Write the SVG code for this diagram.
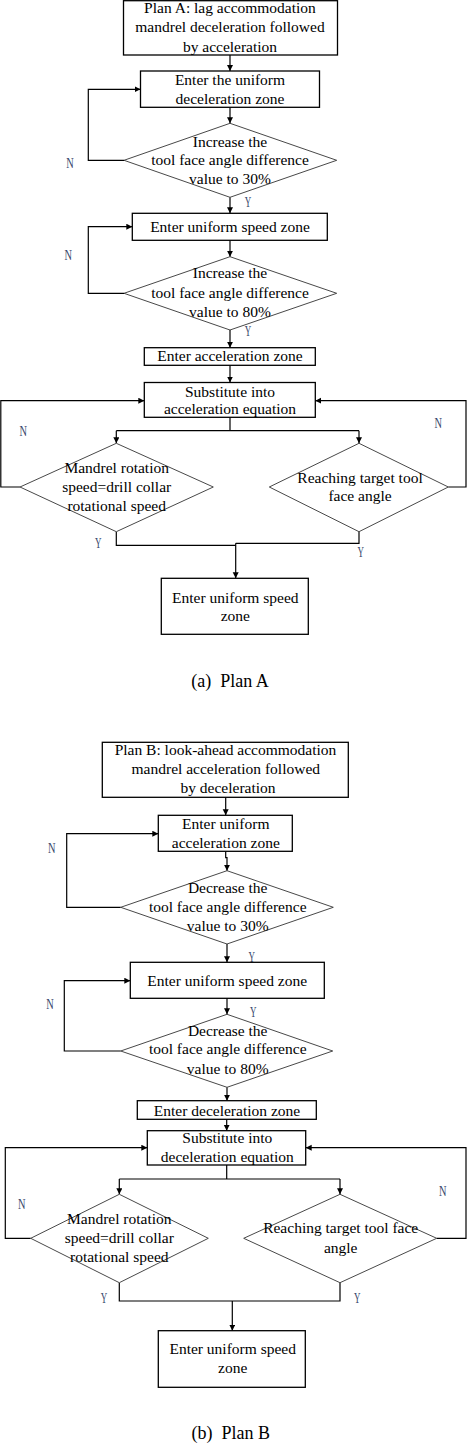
<svg xmlns="http://www.w3.org/2000/svg" width="467" height="1443" viewBox="0 0 467 1443">
<style>
.box{fill:#fff;stroke:#000;stroke-width:1.3}
.dia{fill:#fff;stroke:#333;stroke-width:0.9}
.t{font-family:"Liberation Serif","Times New Roman",serif;font-size:15.5px;fill:#000;text-anchor:middle}
.lbl{font-family:"Liberation Serif","Times New Roman",serif;font-size:14px;fill:#34446a;text-anchor:middle}
.cap{font-family:"Liberation Serif","Times New Roman",serif;font-size:18px;fill:#000;text-anchor:middle}
.c{fill:none;stroke:#000;stroke-width:1.2}
.ca{fill:none;stroke:#000;stroke-width:1.2;marker-end:url(#ah)}
</style>
<defs>
<marker id="ah" markerUnits="userSpaceOnUse" markerWidth="7" markerHeight="7" refX="6" refY="3" orient="auto">
<path d="M0,0 L6,3 L0,6 z" fill="#000"/>
</marker>
</defs>
<g id="connectors">
<line class="ca" x1="230" y1="55" x2="230" y2="71"/>
<line class="ca" x1="230" y1="107.3" x2="230" y2="123.3"/>
<line class="ca" x1="230" y1="197.3" x2="230" y2="213.3"/>
<polyline class="ca" points="124,160.3 88.3,160.3 88.3,89.3 140.5,89.3"/>
<line class="ca" x1="230" y1="240.3" x2="230" y2="256.7"/>
<polyline class="ca" points="124,293.3 88.3,293.3 88.3,226.7 132.3,226.7"/>
<line class="ca" x1="230" y1="330" x2="230" y2="347.7"/>
<line class="ca" x1="230" y1="365.3" x2="230" y2="382.5"/>
<path class="c" d="M230,417.3 V430.7 M116.3,430.7 H359"/>
<line class="ca" x1="116.3" y1="430.7" x2="116.3" y2="443.3"/>
<line class="ca" x1="359" y1="430.7" x2="359" y2="443.3"/>
<polyline class="ca" points="20,487 0.8,487 0.8,400.7 144.3,400.7"/>
<polyline class="ca" points="448.3,487 466,487 466,400.7 315.3,400.7"/>
<polyline class="c" points="116.3,531.7 116.3,545.3 235.7,545.3"/>
<polyline class="c" points="359,531.7 359,543.3 235.7,543.3"/>
<line class="ca" x1="235.7" y1="543.3" x2="235.7" y2="578.3"/>

<line class="ca" x1="225.7" y1="797.3" x2="225.7" y2="815.3"/>
<path class="ca" d="M225.7,851.3 V857.7 H227 V870.7"/>
<polyline class="ca" points="120.7,907.3 66.7,907.3 66.7,833.7 158.3,833.7"/>
<line class="ca" x1="227" y1="944" x2="227" y2="962.3"/>
<line class="ca" x1="227" y1="998.3" x2="227" y2="1014.3"/>
<polyline class="ca" points="120.7,1051 64.3,1051 64.3,980.7 130.3,980.7"/>
<line class="ca" x1="227" y1="1087.3" x2="227" y2="1100.7"/>
<line class="ca" x1="226.7" y1="1119.3" x2="226.7" y2="1130.7"/>
<path class="c" d="M226.7,1165 V1179 M119.3,1179 H340"/>
<line class="ca" x1="119.3" y1="1179" x2="119.3" y2="1194.3"/>
<line class="ca" x1="340" y1="1179" x2="340" y2="1194.3"/>
<polyline class="ca" points="30.7,1238.3 5.3,1238.3 5.3,1147.7 147.3,1147.7"/>
<polyline class="ca" points="436.7,1238.3 466,1238.3 466,1147.7 305.7,1147.7"/>
<polyline class="c" points="119.3,1282.7 119.3,1301 340,1301 340,1282.7"/>
<line class="ca" x1="232.3" y1="1301" x2="232.3" y2="1330.7"/>
</g>

<g id="labels">
<text class="lbl" x="70" y="168" textLength="7.5" lengthAdjust="spacingAndGlyphs">N</text>
<text class="lbl" x="248" y="207" textLength="6.5" lengthAdjust="spacingAndGlyphs">Y</text>
<text class="lbl" x="68.3" y="260" textLength="7.5" lengthAdjust="spacingAndGlyphs">N</text>
<text class="lbl" x="248" y="336" textLength="6.5" lengthAdjust="spacingAndGlyphs">Y</text>
<text class="lbl" x="23.3" y="436" textLength="7.5" lengthAdjust="spacingAndGlyphs">N</text>
<text class="lbl" x="438.3" y="428" textLength="7.5" lengthAdjust="spacingAndGlyphs">N</text>
<text class="lbl" x="98.3" y="548" textLength="6.5" lengthAdjust="spacingAndGlyphs">Y</text>
<text class="lbl" x="360.7" y="557" textLength="6.5" lengthAdjust="spacingAndGlyphs">Y</text>
<text class="lbl" x="51.7" y="853" textLength="7.5" lengthAdjust="spacingAndGlyphs">N</text>
<text class="lbl" x="251.7" y="962" textLength="6.5" lengthAdjust="spacingAndGlyphs">Y</text>
<text class="lbl" x="253.3" y="1017" textLength="6.5" lengthAdjust="spacingAndGlyphs">Y</text>
<text class="lbl" x="50" y="1009" textLength="7.5" lengthAdjust="spacingAndGlyphs">N</text>
<text class="lbl" x="21.7" y="1209" textLength="7.5" lengthAdjust="spacingAndGlyphs">N</text>
<text class="lbl" x="442.7" y="1196" textLength="7.5" lengthAdjust="spacingAndGlyphs">N</text>
<text class="lbl" x="104" y="1303" textLength="6.5" lengthAdjust="spacingAndGlyphs">Y</text>
<text class="lbl" x="357.3" y="1303" textLength="6.5" lengthAdjust="spacingAndGlyphs">Y</text>
</g>

<g id="a1"><rect class="box" x="123.5" y="0.7" width="214" height="54.3"/>
<text class="t" x="230" y="12.7">Plan A: lag accommodation</text>
<text class="t" x="230" y="32">mandrel deceleration followed</text>
<text class="t" x="230" y="51.5">by acceleration</text></g>
<g id="a2"><rect class="box" x="140.5" y="71" width="179" height="36.3"/>
<text class="t" x="230" y="84.5">Enter the uniform</text>
<text class="t" x="230" y="103.5">deceleration zone</text></g>
<g id="a3"><polygon class="dia" points="230,123.3 336.7,160.3 230,197.3 124,160.3"/>
<text class="t" x="230" y="146.7">Increase the</text>
<text class="t" x="230" y="165.3">tool face angle difference</text>
<text class="t" x="230" y="184.3">value to 30%</text></g>
<g id="a4"><rect class="box" x="132.3" y="213.3" width="195" height="27"/>
<text class="t" x="230" y="231.7">Enter uniform speed zone</text></g>
<g id="a5"><polygon class="dia" points="230,256.7 336.7,293.3 230,330 124,293.3"/>
<text class="t" x="230" y="278.3">Increase the</text>
<text class="t" x="230" y="297.7">tool face angle difference</text>
<text class="t" x="230" y="317.3">value to 80%</text></g>
<g id="a6"><rect class="box" x="144.3" y="347.7" width="171" height="17.6"/>
<text class="t" x="230" y="360.5">Enter acceleration zone</text></g>
<g id="a7"><rect class="box" x="144.3" y="382.5" width="171" height="34.8"/>
<text class="t" x="230" y="396.5">Substitute into</text>
<text class="t" x="230" y="414.3">acceleration equation</text></g>
<g id="a8"><polygon class="dia" points="116.3,443.3 213.3,487 116.3,531.7 20,487"/>
<text class="t" x="116.7" y="473.3">Mandrel rotation</text>
<text class="t" x="116.7" y="491.7">speed=drill collar</text>
<text class="t" x="116.7" y="511">rotational speed</text></g>
<g id="a9"><polygon class="dia" points="359,443.3 448.3,487 359,531.7 269.3,487"/>
<text class="t" x="360" y="482.7">Reaching target tool</text>
<text class="t" x="360" y="500.5">face angle</text></g>
<g id="a10"><rect class="box" x="161.3" y="578.3" width="147" height="56"/>
<text class="t" x="235.3" y="602.7">Enter uniform speed</text>
<text class="t" x="235.3" y="621">zone</text></g>
<g id="capA"><text class="cap" x="230" y="686.7" xml:space="preserve">(a)  Plan A</text></g>

<g id="b1"><rect class="box" x="102.3" y="742.3" width="246" height="55"/>
<text class="t" x="225.5" y="755">Plan B: look-ahead accommodation</text>
<text class="t" x="225.8" y="774.3">mandrel acceleration followed</text>
<text class="t" x="228" y="793.3">by deceleration</text></g>
<g id="b2"><rect class="box" x="158.3" y="815.3" width="134" height="36"/>
<text class="t" x="225.8" y="829">Enter uniform</text>
<text class="t" x="225.8" y="848">acceleration zone</text></g>
<g id="b3"><polygon class="dia" points="227,870.7 333.3,907.3 227,944 120.7,907.3"/>
<text class="t" x="227.7" y="893.3">Decrease the</text>
<text class="t" x="227.7" y="911.7">tool face angle difference</text>
<text class="t" x="227.7" y="930.7">value to 30%</text></g>
<g id="b4"><rect class="box" x="130.3" y="962.3" width="194" height="36"/>
<text class="t" x="227.2" y="985.7">Enter uniform speed zone</text></g>
<g id="b5"><polygon class="dia" points="227,1014.3 332.7,1051 227,1087.3 120.7,1051"/>
<text class="t" x="227.7" y="1035.7">Decrease the</text>
<text class="t" x="227.7" y="1054.3">tool face angle difference</text>
<text class="t" x="227.7" y="1074">value to 80%</text></g>
<g id="b6"><rect class="box" x="137.3" y="1100.7" width="179" height="18.6"/>
<text class="t" x="227" y="1116">Enter deceleration zone</text></g>
<g id="b7"><rect class="box" x="147.3" y="1130.7" width="158.4" height="34.3"/>
<text class="t" x="227.3" y="1142.7">Substitute into</text>
<text class="t" x="227.3" y="1162.3">deceleration equation</text></g>
<g id="b8"><polygon class="dia" points="119.3,1194.3 208.3,1238.3 119.3,1282.7 30.7,1238.3"/>
<text class="t" x="119.3" y="1224.3">Mandrel rotation</text>
<text class="t" x="119.3" y="1242.7">speed=drill collar</text>
<text class="t" x="119.3" y="1261.7">rotational speed</text></g>
<g id="b9"><polygon class="dia" points="340,1194.3 436.7,1238.3 340,1282.7 243.7,1238.3"/>
<text class="t" x="340.7" y="1233.3">Reaching target tool face</text>
<text class="t" x="340.7" y="1252.7">angle</text></g>
<g id="b10"><rect class="box" x="158.3" y="1330.7" width="147" height="56.6"/>
<text class="t" x="232.7" y="1354">Enter uniform speed</text>
<text class="t" x="232.7" y="1373.3">zone</text></g>
<g id="capB"><text class="cap" x="230.7" y="1439" xml:space="preserve">(b)  Plan B</text></g>
</svg>
